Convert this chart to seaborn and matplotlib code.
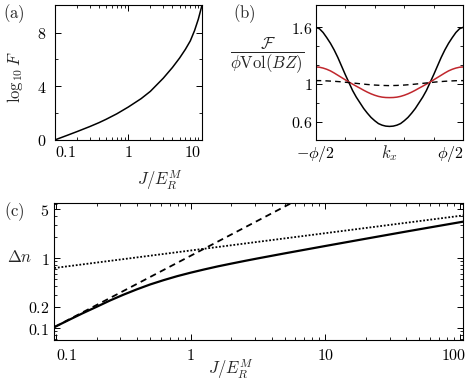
import numpy as np
import pandas as pd
import matplotlib
matplotlib.use("Agg")
import matplotlib.pyplot as plt
import seaborn as sns
from matplotlib.ticker import FixedLocator, FixedFormatter, NullFormatter
from matplotlib.transforms import ScaledTranslation

# (a) log10 F vs J/E_R^M
J_a = [0.1, 0.15, 0.2, 0.3, 0.4, 0.5, 0.7, 1.0, 1.5, 2.0, 3.0, 4.0, 5.0, 6.0, 7.0, 8.0, 9.0, 10.0]
logF_a = [0.0, 0.36, 0.62, 1.0, 1.29, 1.54, 1.95, 2.45, 3.08, 3.62, 4.6, 5.4, 6.1, 6.75, 7.38, 8.15, 9.0, 9.95]

kx_b = [-0.5, -0.475, -0.45, -0.425, -0.4, -0.375, -0.35, -0.325, -0.3, -0.275, -0.25,
        -0.225, -0.2, -0.175, -0.15, -0.125, -0.1, -0.075, -0.05, -0.025, 0.0,
        0.025, 0.05, 0.075, 0.1, 0.125, 0.15, 0.175, 0.2, 0.225, 0.25,
        0.275, 0.3, 0.325, 0.35, 0.375, 0.4, 0.425, 0.45, 0.475, 0.5]
black_half = [1.60, 1.585, 1.545, 1.49, 1.43, 1.36, 1.28, 1.19, 1.10, 1.015, 0.93,
              0.86, 0.80, 0.74, 0.69, 0.645, 0.61, 0.58, 0.563, 0.553, 0.55]
red_half = [1.18, 1.177, 1.168, 1.155, 1.138, 1.116, 1.092, 1.068, 1.044, 1.02, 0.998,
            0.976, 0.955, 0.933, 0.913, 0.895, 0.88, 0.868, 0.86, 0.856, 0.855]
dash_half = [1.035, 1.035, 1.034, 1.032, 1.030, 1.028, 1.025, 1.022, 1.018, 1.014, 1.010,
             1.006, 1.002, 0.998, 0.994, 0.991, 0.988, 0.986, 0.984, 0.983, 0.982]

# (c) Delta n vs J/E_R^M
J_c = [0.097, 0.126, 0.158, 0.2, 0.251, 0.316, 0.398, 0.501, 0.631, 0.794, 1.0,
       1.26, 1.585, 2.0, 2.51, 3.16, 5.01, 10.0, 20.0, 39.8, 106.0]
dn_c = [0.103, 0.132, 0.163, 0.201, 0.247, 0.299, 0.357, 0.420, 0.484, 0.551, 0.618,
        0.687, 0.759, 0.832, 0.908, 0.989, 1.167, 1.486, 1.887, 2.387, 3.31]
J_dot = [0.097, 106.0]
dn_dot = [0.72, 4.06]
J_dash = [0.097, 5.6]
dn_dash = [0.103, 6.1]

sns.set_style("ticks")
plt.rcParams["mathtext.fontset"] = "cm"
plt.rcParams["font.family"] = ["DejaVu Serif"]
plt.rcParams["axes.linewidth"] = 0.8

W, H = 468, 381
fig = plt.figure(figsize=(W / 100, H / 100), dpi=100)

def box(l, t, r, b):
    return [l / W, 1 - b / H, (r - l) / W, (b - t) / H]

ax_a = fig.add_axes(box(54.7, 5, 201.7, 140))
ax_b = fig.add_axes(box(315.7, 5, 463.3, 140))
ax_c = fig.add_axes(box(54.3, 203.3, 463.3, 340))

FS = 11.5

def frame(ax):
    ax.tick_params(which="both", direction="in", top=True, right=True,
                   colors="black", labelsize=FS)
    ax.tick_params(which="major", length=4, width=0.7)
    ax.tick_params(which="minor", length=2, width=0.6)
    for s in ax.spines.values():
        s.set_color("black")
    ax.set_xlabel("")
    ax.set_ylabel("")

# ---- (a)
df_a = pd.DataFrame({"J": J_a, "F": logF_a})
sns.lineplot(data=df_a, x="J", y="F", ax=ax_a, color="black", lw=1.1, legend=False)
ax_a.set_xscale("log")
ax_a.set_xlim(0.1, 10)
ax_a.set_ylim(0, 10.05)
ax_a.xaxis.set_major_locator(FixedLocator([0.1, 1, 10]))
ax_a.xaxis.set_major_formatter(FixedFormatter([r"$0.1$", r"$1$", r"$10$"]))
ax_a.xaxis.set_minor_locator(FixedLocator([k * 0.1 for k in range(2, 10)] + list(range(2, 10))))
ax_a.xaxis.set_minor_formatter(NullFormatter())
ax_a.yaxis.set_major_locator(FixedLocator([0, 4, 8]))
ax_a.yaxis.set_major_formatter(FixedFormatter([r"$0$", r"$4$", r"$8$"]))
ax_a.yaxis.set_minor_locator(FixedLocator([2, 6]))
frame(ax_a)
ax_a.tick_params(axis="y", pad=6)
ax_a.tick_params(axis="x", pad=3)
xl = ax_a.get_xticklabels()
xl[0].set_ha("left")
xl[-1].set_ha("right")

# ---- (b)
df_b = pd.DataFrame({"k": kx_b,
                     "black": black_half + black_half[-2::-1],
                     "red": red_half + red_half[-2::-1],
                     "dash": dash_half + dash_half[-2::-1]})
sns.lineplot(data=df_b, x="k", y="black", ax=ax_b, color="black", lw=1.1, legend=False)
sns.lineplot(data=df_b, x="k", y="red", ax=ax_b, color="#c0272d", lw=1.1, legend=False)
sns.lineplot(data=df_b, x="k", y="dash", ax=ax_b, color="black", lw=1.0,
             linestyle=(0, (4, 3)), legend=False)
ax_b.set_xlim(-0.5, 0.5)
ax_b.set_ylim(0.406, 1.836)
ax_b.xaxis.set_major_locator(FixedLocator([-0.5, 0.5]))
ax_b.xaxis.set_major_formatter(FixedFormatter([r"$-\phi/2$", r"$\phi/2$"]))
ax_b.xaxis.set_minor_locator(FixedLocator([-0.3, -0.1, 0.1, 0.3]))
ax_b.yaxis.set_major_locator(FixedLocator([0.6, 1.0, 1.6]))
ax_b.yaxis.set_major_formatter(FixedFormatter([r"$0.6$", r"$1$", r"$1.6$"]))
ax_b.yaxis.set_minor_locator(FixedLocator([0.8, 1.2, 1.4]))
frame(ax_b)
ax_b.tick_params(axis="y", pad=2)
ax_b.tick_params(axis="x", pad=3)
ax_b.get_xticklabels()[-1].set_ha("right")

# ---- (c)
df_c = pd.DataFrame({"J": J_c, "dn": dn_c})
df_dot = pd.DataFrame({"J": J_dot, "dn": dn_dot})
df_dash = pd.DataFrame({"J": J_dash, "dn": dn_dash})
sns.lineplot(data=df_dot, x="J", y="dn", ax=ax_c, color="black", lw=1.3,
             linestyle=(0, (1, 1)), legend=False)
sns.lineplot(data=df_dash, x="J", y="dn", ax=ax_c, color="black", lw=1.3,
             linestyle=(0, (3.5, 2.5)), legend=False)
sns.lineplot(data=df_c, x="J", y="dn", ax=ax_c, color="black", lw=1.6, legend=False)
ax_c.set_xscale("log")
ax_c.set_yscale("log")
ax_c.set_xlim(0.097, 106)
ax_c.set_ylim(0.0675, 6.05)
ax_c.xaxis.set_major_locator(FixedLocator([0.1, 1, 10, 100]))
ax_c.xaxis.set_major_formatter(FixedFormatter([r"$0.1$", r"$1$", r"$10$", r"$100$"]))
xminor = [d * k for d in (0.1, 1, 10) for k in range(2, 10)]
ax_c.xaxis.set_minor_locator(FixedLocator(xminor))
ax_c.xaxis.set_minor_formatter(NullFormatter())
ax_c.yaxis.set_major_locator(FixedLocator([0.1, 0.2, 1, 5]))
ax_c.yaxis.set_major_formatter(FixedFormatter([r"$0.1$", r"$0.2$", r"$1$", r"$5$"]))
yminor = [0.07, 0.08, 0.09, 0.3, 0.4, 0.5, 0.6, 0.7, 0.8, 0.9, 2, 3, 4, 6]
ax_c.yaxis.set_minor_locator(FixedLocator(yminor))
ax_c.yaxis.set_minor_formatter(NullFormatter())
frame(ax_c)
ax_c.tick_params(axis="y", pad=3.5)
ax_c.tick_params(axis="x", pad=5)
xlc = ax_c.get_xticklabels()
xlc[0].set_ha("left")
xlc[-1].set_transform(xlc[-1].get_transform() +
                      ScaledTranslation(-0.06, 0, fig.dpi_scale_trans))

# ---- labels
def ftext(x, y, s, **kw):
    fig.text(x / W, 1 - y / H, s, ha="center", va="center", fontsize=12, **kw)

ftext(14, 14, r"$\mathrm{(a)}$")
ftext(244, 14, r"$\mathrm{(b)}$")
ftext(14, 212, r"$\mathrm{(c)}$")
ftext(15, 77, r"$\log_{10}F$", rotation=90)
ftext(160, 180, r"$J/E_R^M$")
ftext(267, 55, r"$\dfrac{\mathcal{F}}{\phi\mathrm{Vol}(BZ)}$")
ftext(389, 153, r"$k_x$")
ftext(20, 258, r"$\Delta n$")
ftext(231, 369, r"$J/E_R^M$")

fig.savefig("out.png", dpi=100)
